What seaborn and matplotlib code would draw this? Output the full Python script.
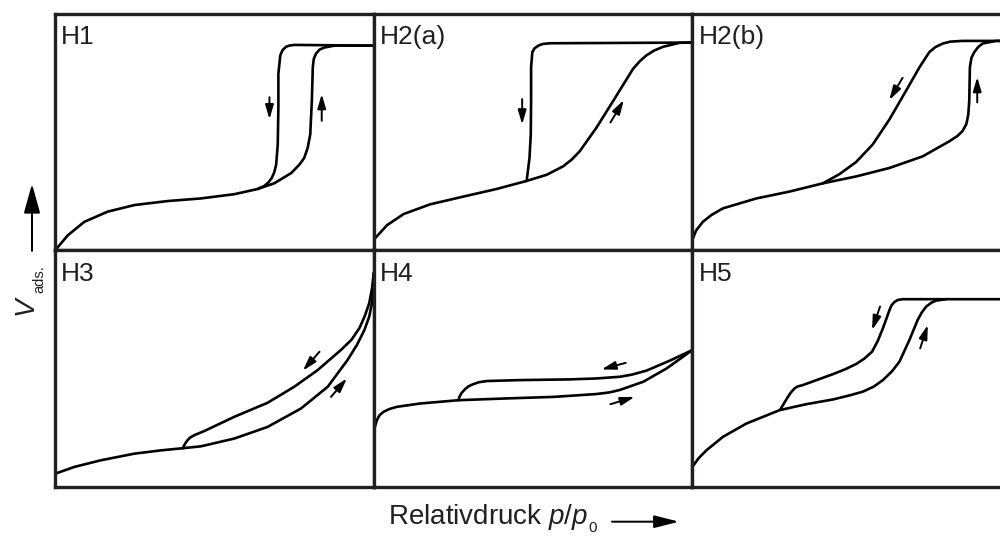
import matplotlib
matplotlib.use("Agg")
import matplotlib.pyplot as plt
from matplotlib.patches import FancyArrowPatch
import pandas as pd
import seaborn as sns

sns.set_style("white")
plt.rcParams["font.family"] = ["Liberation Sans", "DejaVu Sans"]
plt.rcParams["mathtext.fontset"] = "custom"
plt.rcParams["mathtext.rm"] = "Liberation Sans"
plt.rcParams["mathtext.it"] = "Liberation Sans:italic"

# panel names (IUPAC hysteresis types)
panel_names = ["H1", "H2(a)", "H2(b)", "H3", "H4", "H5"]

# adsorption / desorption branches, x = p/p0, y = relative volume (0..1 of panel)
h1_ads = [(0, 0), (0.040, 0.064), (0.092, 0.121), (0.165, 0.164), (0.249, 0.192),
          (0.354, 0.209), (0.458, 0.220), (0.563, 0.238), (0.636, 0.260), (0.688, 0.284),
          (0.741, 0.327), (0.767, 0.363), (0.782, 0.391), (0.793, 0.434), (0.801, 0.491),
          (0.806, 0.633), (0.809, 0.775), (0.812, 0.810), (0.819, 0.832), (0.830, 0.849),
          (0.845, 0.858), (0.877, 0.866), (1.0, 0.866)]
h1_des = [(1.0, 0.866), (0.751, 0.869), (0.735, 0.866), (0.725, 0.861), (0.714, 0.847),
          (0.707, 0.825), (0.701, 0.747), (0.701, 0.605), (0.699, 0.448), (0.694, 0.363),
          (0.688, 0.330), (0.680, 0.306), (0.670, 0.288), (0.657, 0.273), (0.636, 0.260)]

h2a_ads = [(0.0, 0.045), (0.042, 0.107), (0.094, 0.154), (0.177, 0.195), (0.282, 0.228),
           (0.386, 0.260), (0.480, 0.294), (0.543, 0.320), (0.595, 0.356), (0.622, 0.385),
           (0.647, 0.420), (0.699, 0.519), (0.752, 0.633), (0.814, 0.768), (0.835, 0.800),
           (0.856, 0.825), (0.880, 0.845), (0.908, 0.861), (0.960, 0.878), (1.0, 0.879)]
h2a_des = [(1.0, 0.879), (0.553, 0.876), (0.530, 0.873), (0.517, 0.866), (0.505, 0.855),
           (0.498, 0.839), (0.494, 0.775), (0.494, 0.633), (0.493, 0.491), (0.489, 0.391),
           (0.480, 0.294)]

h2b_ads = [(0.0, 0.045), (0.012, 0.085), (0.033, 0.121), (0.060, 0.150), (0.096, 0.178),
           (0.201, 0.220), (0.305, 0.249), (0.410, 0.284), (0.514, 0.313), (0.619, 0.349),
           (0.723, 0.398), (0.807, 0.462), (0.832, 0.484), (0.848, 0.505), (0.860, 0.535),
           (0.866, 0.575), (0.869, 0.633), (0.871, 0.775), (0.876, 0.815), (0.885, 0.839),
           (0.897, 0.860), (0.911, 0.875), (0.953, 0.886), (1.0, 0.886)]
h2b_des = [(1.0, 0.886), (0.848, 0.886), (0.810, 0.883), (0.786, 0.875), (0.763, 0.860),
           (0.744, 0.839), (0.713, 0.775), (0.671, 0.676), (0.619, 0.555), (0.566, 0.448),
           (0.514, 0.374), (0.462, 0.323), (0.410, 0.284)]

h3_ads = [(0.0, 0.056), (0.061, 0.085), (0.144, 0.113), (0.249, 0.141), (0.333, 0.155),
          (0.401, 0.164), (0.458, 0.172), (0.563, 0.205), (0.667, 0.254), (0.772, 0.332),
          (0.856, 0.424), (0.918, 0.537), (0.948, 0.602), (0.971, 0.664), (0.986, 0.720),
          (0.995, 0.780), (0.999, 0.840), (1.0, 0.904)]
h3_des = [(1.0, 0.904), (0.995, 0.840), (0.986, 0.777), (0.972, 0.722), (0.955, 0.671),
          (0.930, 0.622), (0.897, 0.579), (0.824, 0.494), (0.751, 0.424), (0.667, 0.356),
          (0.563, 0.297), (0.469, 0.237), (0.437, 0.219), (0.424, 0.209), (0.416, 0.198),
          (0.409, 0.185), (0.401, 0.164)]

h4_ads = [(0.0, 0.220), (0.004, 0.255), (0.010, 0.282), (0.018, 0.303), (0.031, 0.318),
          (0.050, 0.330), (0.073, 0.339), (0.146, 0.353), (0.266, 0.367), (0.407, 0.374),
          (0.564, 0.381), (0.699, 0.393), (0.740, 0.400), (0.772, 0.410), (0.846, 0.445),
          (0.919, 0.501), (1.0, 0.579)]
h4_des = [(1.0, 0.579), (0.929, 0.534), (0.856, 0.492), (0.810, 0.475), (0.772, 0.466),
          (0.700, 0.459), (0.616, 0.455), (0.459, 0.452), (0.355, 0.448), (0.330, 0.443),
          (0.313, 0.435), (0.298, 0.426), (0.287, 0.414), (0.276, 0.398), (0.269, 0.381),
          (0.266, 0.367)]

h5_ads = [(0.0, 0.085), (0.020, 0.122), (0.044, 0.155), (0.096, 0.212), (0.169, 0.268),
          (0.274, 0.325), (0.357, 0.350), (0.441, 0.370), (0.495, 0.388), (0.535, 0.403),
          (0.570, 0.425), (0.598, 0.452), (0.627, 0.490), (0.650, 0.530), (0.681, 0.621),
          (0.707, 0.706), (0.720, 0.738), (0.734, 0.763), (0.750, 0.779), (0.765, 0.788),
          (0.796, 0.794), (1.0, 0.794)]
h5_des = [(0.796, 0.794), (0.660, 0.794), (0.645, 0.791), (0.634, 0.782), (0.625, 0.768),
          (0.619, 0.749), (0.598, 0.671), (0.582, 0.618), (0.564, 0.572), (0.540, 0.543),
          (0.514, 0.520), (0.480, 0.498), (0.441, 0.477), (0.347, 0.431), (0.330, 0.425),
          (0.321, 0.417), (0.310, 0.401), (0.300, 0.381), (0.276, 0.328)]

branches = [(h1_ads, h1_des), (h2a_ads, h2a_des), (h2b_ads, h2b_des),
            (h3_ads, h3_des), (h4_ads, h4_des), (h5_ads, h5_des)]

# direction arrows: (start, end) per panel
panel_arrows = [
    [((0.673, 0.648), (0.673, 0.555)), ((0.837, 0.548), (0.837, 0.661))],
    [((0.466, 0.640), (0.466, 0.533)), ((0.743, 0.541), (0.785, 0.636))],
    [((0.660, 0.730), (0.618, 0.636)), ((0.894, 0.626), (0.894, 0.733))],
    [((0.830, 0.572), (0.778, 0.492)), ((0.866, 0.381), (0.916, 0.459))],
    [((0.791, 0.525), (0.715, 0.497)), ((0.743, 0.350), (0.819, 0.381))],
    [((0.589, 0.763), (0.564, 0.664)), ((0.715, 0.586), (0.739, 0.685))],
]

fig, axes = plt.subplots(2, 3, figsize=(10, 5.36), dpi=100)
fig.subplots_adjust(left=0.055, right=1.011, top=0.974, bottom=0.0914,
                    wspace=0, hspace=0)

for ax, name, (ads, des), arrs in zip(axes.flat, panel_names, branches, panel_arrows):
    for branch in (ads, des):
        df = pd.DataFrame(branch, columns=["p", "v"])
        sns.lineplot(data=df, x="p", y="v", sort=False, estimator=None,
                     color="black", lw=1.9, ax=ax, solid_joinstyle="round",
                     solid_capstyle="round")
    for start, end in arrs:
        ax.annotate("", xy=end, xytext=start,
                    arrowprops=dict(arrowstyle="-|>,head_length=0.85,head_width=0.25",
                                    mutation_scale=10, lw=1.4, color="black",
                                    shrinkA=0, shrinkB=0))
    ax.text(0.019, 0.953, name, transform=ax.transAxes, fontsize=19,
            ha="left", va="top", color="#231f20")
    ax.set_xlim(0, 1)
    ax.set_ylim(0, 1)
    ax.set_xticks([])
    ax.set_yticks([])
    ax.set_xlabel("")
    ax.set_ylabel("")
    for sp in ax.spines.values():
        sp.set_visible(True)
        sp.set_color("#231f20")
        sp.set_linewidth(2.4)

# y label: V with small subscript, plus upward arrow
fig.text(0.033, 0.429, "V", style="italic", rotation=90, rotation_mode="anchor",
         fontsize=20, ha="center", va="baseline", color="#231f20")
fig.text(0.043, 0.4795, "ads.", rotation=90, rotation_mode="anchor",
         fontsize=10.5, ha="center", va="baseline", color="#231f20")
fig.add_artist(FancyArrowPatch(
    (0.032, 0.532), (0.032, 0.657), transform=fig.transFigure,
    arrowstyle="-|>,head_length=1.8,head_width=0.5", mutation_scale=10,
    lw=1.45, color="black", shrinkA=0, shrinkB=0))

# x label: Relativdruck p/p0, plus right arrow
xl = fig.text(0.388, 0.0215, r"Relativdruck $\mathit{p}$/$\mathit{p}$",
              fontsize=20, ha="left", va="baseline", color="#231f20")
plt.annotate("0", xy=(1, 0.007), xycoords=(xl, "figure fraction"),
             xytext=(0.5, 0), textcoords="offset points",
             fontsize=11, ha="left", va="baseline", color="#231f20")
fig.add_artist(FancyArrowPatch(
    (0.612, 0.0267), (0.679, 0.0267), transform=fig.transFigure,
    arrowstyle="-|>,head_length=1.5,head_width=0.38", mutation_scale=10,
    lw=1.45, color="black", shrinkA=0, shrinkB=0))

fig.savefig("out.png", dpi=100)
